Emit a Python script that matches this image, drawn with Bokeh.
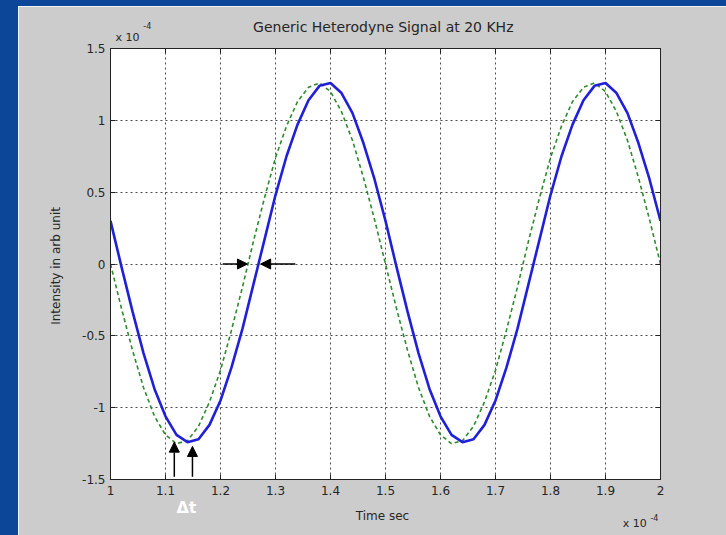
from bokeh.plotting import figure
from bokeh.models import (FixedTicker, CustomJSTickFormatter, LinearAxis,
                          Arrow, NormalHead, ColumnDataSource, Range1d, Div)
from bokeh.layouts import row, column
from bokeh.embed import file_html
from bokeh.resources import INLINE

# ---- data (time in units of 1e-4 s, intensity in units of 1e-4) ----
time_s = [1.00, 1.02, 1.04, 1.06, 1.08, 1.10, 1.12, 1.14, 1.16, 1.18,
          1.20, 1.22, 1.24, 1.26, 1.28, 1.30, 1.32, 1.34, 1.36, 1.38,
          1.40, 1.42, 1.44, 1.46, 1.48, 1.50, 1.52, 1.54, 1.56, 1.58,
          1.60, 1.62, 1.64, 1.66, 1.68, 1.70, 1.72, 1.74, 1.76, 1.78,
          1.80, 1.82, 1.84, 1.86, 1.88, 1.90, 1.92, 1.94, 1.96, 1.98, 2.00]

reference_signal = [0.00, -0.31, -0.60, -0.86, -1.06, -1.19, -1.25, -1.23, -1.13, -0.96,
                    -0.74, -0.46, -0.16, 0.16, 0.46, 0.74, 0.96, 1.13, 1.23, 1.26,
                    1.20, 1.06, 0.86, 0.60, 0.31, 0.00, -0.31, -0.60, -0.86, -1.06,
                    -1.19, -1.25, -1.23, -1.13, -0.96, -0.74, -0.46, -0.16, 0.16, 0.46,
                    0.74, 0.96, 1.13, 1.23, 1.26, 1.20, 1.06, 0.86, 0.60, 0.31, 0.00]

shifted_signal = [0.30, -0.02, -0.33, -0.62, -0.87, -1.06, -1.19, -1.24, -1.22, -1.12,
                  -0.95, -0.72, -0.45, -0.14, 0.17, 0.48, 0.75, 0.97, 1.14, 1.24,
                  1.26, 1.19, 1.05, 0.84, 0.59, 0.30, -0.02, -0.33, -0.62, -0.87,
                  -1.06, -1.19, -1.24, -1.22, -1.12, -0.95, -0.72, -0.45, -0.14, 0.17,
                  0.48, 0.75, 0.97, 1.14, 1.24, 1.26, 1.19, 1.05, 0.84, 0.59, 0.30]

x_ticks = [1.0, 1.1, 1.2, 1.3, 1.4, 1.5, 1.6, 1.7, 1.8, 1.9, 2.0]
y_ticks = [-1.5, -1.0, -0.5, 0.0, 0.5, 1.0, 1.5]

# delta-t marker arrows (data units)
arrow_x_start = [1.116, 1.149, 1.204, 1.336]
arrow_y_start = [-1.48, -1.48, 0.0, 0.0]
arrow_x_end = [1.116, 1.149, 1.249, 1.273]
arrow_y_end = [-1.24, -1.27, 0.0, 0.0]

# texts and where they sit along the time axis (data x)
title_text, title_x = "Generic Heterodyne Signal at 20 KHz", 1.496
xlabel_text, xlabel_x = "Time  sec", 1.498
ylabel_text = "Intensity  in arb unit"
delta_text, delta_x = "Δt", 1.138
exp_base_text, exp_power_text = "x 10", "-4"
exp_top_x = [1.031, 1.067]
exp_bottom_x = [1.953, 1.989]

GREY = "#cccccc"
BLUE_BG = "#0b4698"
TXT = "#262626"
FONT = "DejaVu Sans"

p = figure(frame_width=550, frame_height=431, output_backend="svg", toolbar_location=None,
           x_range=Range1d(1.0, 2.0), y_range=Range1d(-1.5, 1.5),
           min_border_left=92, min_border_right=66, min_border_top=42,
           min_border_bottom=56,
           background_fill_color="white", border_fill_color=GREY,
           outline_line_color="#222222", outline_line_width=1)
p.title_location = None

fmt = CustomJSTickFormatter(code="return tick.toString();")
xa = p.below[0]
ya = p.left[0]
xa.ticker = FixedTicker(ticks=x_ticks)
xa.formatter = fmt
xa.major_label_standoff = 6
ya.ticker = FixedTicker(ticks=y_ticks)
ya.formatter = fmt
ya.axis_label = ylabel_text
ya.axis_label_standoff = 16
ya.major_label_standoff = 5
ya.axis_label_text_font = FONT
ya.axis_label_text_font_size = "12px"
ya.axis_label_text_font_style = "normal"
ya.axis_label_text_color = TXT

box_top = LinearAxis(ticker=FixedTicker(ticks=x_ticks))
box_right = LinearAxis(ticker=FixedTicker(ticks=y_ticks))
for bx in (box_top, box_right):
    bx.major_label_text_color = None
    bx.major_label_text_font_size = "1px"
    bx.major_label_standoff = 0
p.add_layout(box_top, "above")
p.add_layout(box_right, "right")

for ax in (xa, ya, box_top, box_right):
    ax.major_tick_in = 5
    ax.major_tick_out = 0
    ax.minor_tick_line_color = None
    ax.axis_line_color = "#222222"
    ax.major_tick_line_color = "#222222"
for ax in (xa, ya):
    ax.major_label_text_font = FONT
    ax.major_label_text_font_size = "12px"
    ax.major_label_text_color = TXT


def text_axis(xpos, txt, size, color, standoff, style="normal"):
    a = LinearAxis(ticker=FixedTicker(ticks=[xpos]),
                   formatter=CustomJSTickFormatter(args=dict(t=txt), code="return t;"))
    a.axis_line_color = None
    a.major_tick_line_color = None
    a.minor_tick_line_color = None
    a.major_tick_in = 0
    a.major_tick_out = 0
    a.major_label_text_font = FONT
    a.major_label_text_font_size = size
    a.major_label_text_font_style = style
    a.major_label_text_color = color
    a.major_label_standoff = standoff
    return a


# below the frame (stacked outward from the tick labels)
p.add_layout(text_axis(delta_x, delta_text, "16px", "white", 0, "bold"), "below")
p.add_layout(text_axis(xlabel_x, xlabel_text, "12px", TXT, -11), "below")
p.add_layout(text_axis(exp_bottom_x[0], exp_base_text, "11px", TXT, -9), "below")
p.add_layout(text_axis(exp_bottom_x[1], exp_power_text, "8px", TXT, -19), "below")
# above the frame
p.add_layout(text_axis(exp_top_x[0], exp_base_text, "11px", TXT, 5), "above")
p.add_layout(text_axis(title_x, title_text, "14px", TXT, -7), "above")
p.add_layout(text_axis(exp_top_x[1], exp_power_text, "8px", TXT, -13), "above")

for g in (p.xgrid, p.ygrid):
    g.grid_line_color = "#000000"
    g.grid_line_alpha = 0.7
    g.grid_line_dash = "2 3"
    g.grid_line_width = 1
p.xgrid.ticker = FixedTicker(ticks=x_ticks)
p.ygrid.ticker = FixedTicker(ticks=y_ticks)

p.line(time_s, reference_signal, line_color="#2e8b2e", line_width=1.6, line_dash="4 3")
p.line(time_s, shifted_signal, line_color="#2020d8", line_width=2.6)

arr_src = ColumnDataSource(dict(x0=arrow_x_start, y0=arrow_y_start, x1=arrow_x_end, y1=arrow_y_end))
p.add_layout(Arrow(end=NormalHead(size=10, fill_color="black", line_color="black"),
                   x_start="x0", y_start="y0", x_end="x1", y_end="y1",
                   source=arr_src, line_color="black", line_width=1.5))

top_strip = Div(width=726, height=6, margin=0, styles={"background-color": BLUE_BG})
left_strip = Div(width=18, height=529, margin=0, styles={"background-color": BLUE_BG})
layout = column(top_strip, row(left_strip, p, spacing=0), spacing=0)

open("out.html", "w").write(file_html(layout, INLINE))
